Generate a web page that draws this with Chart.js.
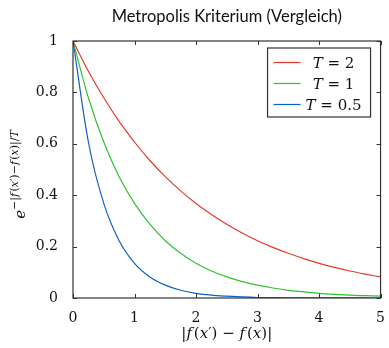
<!DOCTYPE html>
<html>
<head>
<meta charset="utf-8">
<script src="https://cdn.jsdelivr.net/npm/chart.js@4.4.1/dist/chart.umd.min.js"></script>
<style>
  html, body { margin: 0; padding: 0; background: #fff; }
  #wrap { width: 389px; height: 348px; }
</style>
</head>
<body>
<div id="wrap"><canvas id="chart1" width="389" height="348"></canvas></div>
<script>
// x values |f(x') - f(x)|
const xValues = [0, 0.25, 0.5, 0.75, 1, 1.25, 1.5, 1.75, 2, 2.25, 2.5, 2.75, 3, 3.25, 3.5, 3.75, 4, 4.25, 4.5, 4.75, 5];

const valuesT2 = [1, 0.882, 0.779, 0.687, 0.607, 0.535, 0.472, 0.417, 0.368, 0.325, 0.287, 0.253, 0.223, 0.197, 0.174, 0.153, 0.135, 0.119, 0.105, 0.093, 0.082];
const valuesT1 = [1, 0.779, 0.607, 0.472, 0.368, 0.287, 0.223, 0.174, 0.135, 0.105, 0.082, 0.064, 0.050, 0.039, 0.030, 0.024, 0.018, 0.014, 0.011, 0.009, 0.007];
const valuesT05 = [1, 0.607, 0.368, 0.223, 0.135, 0.082, 0.050, 0.030, 0.018, 0.011, 0.007, 0.004, 0.002, 0.0015, 0.001, 0.0006, 0.0003, 0.0002, 0.0001, 0.0001, 0];

const seriesLabels = ['2', '1', '0.5'];
const seriesColors = ['#e6382c', '#2ec42e', '#0d5ec6'];
const xTicks = [0, 1, 2, 3, 4, 5];
const yTicks = [0, 0.2, 0.4, 0.6, 0.8, 1];
const chartTitle = 'Metropolis Kriterium (Vergleich)';

const serif = '"DejaVu Serif", "Liberation Serif", serif';

function toPoints(values) {
    return values.map((v, i) => ({ x: xValues[i], y: v }));
}

// draw mixed italic/upright runs, centered at x
// run = [text, italic, size, dy]
function drawRuns(ctx, runs, x, y, size) {
    let total = 0;
    runs.forEach(r => {
        ctx.font = (r[1] ? 'italic ' : '') + (r[2] || size) + 'px ' + serif;
        total += ctx.measureText(r[0]).width;
    });
    let cx = x - total / 2;
    ctx.textBaseline = 'alphabetic';
    ctx.textAlign = 'left';
    runs.forEach(r => {
        ctx.font = (r[1] ? 'italic ' : '') + (r[2] || size) + 'px ' + serif;
        ctx.fillText(r[0], cx, y + (r[3] || 0));
        cx += ctx.measureText(r[0]).width;
    });
}

const framePlugin = {
    id: 'frame',
    afterDatasetsDraw(chart) {
        const ctx = chart.ctx;
        const a = chart.chartArea;
        const xs = chart.scales.x, ys = chart.scales.y;
        ctx.save();
        ctx.strokeStyle = '#333';
        ctx.lineWidth = 1;
        // inner ticks on all four sides
        ctx.beginPath();
        xTicks.forEach(t => {
            const px = Math.round(xs.getPixelForValue(t)) + 0.5;
            ctx.moveTo(px, a.bottom); ctx.lineTo(px, a.bottom - 4);
            ctx.moveTo(px, a.top); ctx.lineTo(px, a.top + 4);
        });
        yTicks.forEach(t => {
            const py = Math.round(ys.getPixelForValue(t)) + 0.5;
            ctx.moveTo(a.left, py); ctx.lineTo(a.left + 4, py);
            ctx.moveTo(a.right, py); ctx.lineTo(a.right - 4, py);
        });
        ctx.stroke();
        ctx.lineWidth = 1.2;
        ctx.strokeRect(a.left, a.top, a.right - a.left, a.bottom - a.top);

        // title
        ctx.fillStyle = '#111';
        ctx.font = '16.5px Lato, "Open Sans", sans-serif';
        ctx.textAlign = 'center';
        ctx.textBaseline = 'middle';
        ctx.fillText(chartTitle, (a.left + a.right) / 2, 17);

        // legend
        const lx = a.right - 113, ly = a.top + 7, lw = 103, lh = 69;
        ctx.fillStyle = '#fff';
        ctx.fillRect(lx, ly, lw, lh);
        ctx.strokeStyle = '#333';
        ctx.strokeRect(lx, ly, lw, lh);
        ctx.fillStyle = '#111';
        seriesLabels.forEach((lab, i) => {
            const rowY = ly + 14 + i * 21;
            ctx.strokeStyle = seriesColors[i];
            ctx.lineWidth = 1.2;
            ctx.beginPath();
            ctx.moveTo(lx + 6, rowY + 0.5); ctx.lineTo(lx + 33, rowY + 0.5);
            ctx.stroke();
            drawRuns(ctx, [['T', true], [' = ', false, 15], [lab, false]], lx + 66, rowY + 6, 15);
        });

        // x axis title
        drawRuns(ctx, [['|', false], ['f', true], [' ', false, 6], ['(', false], ['x', true], ['\u2032', false],
            [')', false], [' \u2212 ', false], ['f', true], [' ', false, 6], ['(', false], ['x', true], [')|', false]],
            (a.left + a.right) / 2, 338, 15);

        // y axis title, rotated
        ctx.translate(25, (a.top + a.bottom) / 2 + 5);
        ctx.rotate(-Math.PI / 2);
        const s = 11, d = -7;
        drawRuns(ctx, [['e', true, 15], ['\u2212|', false, s, d], ['f', true, s, d], [' ', false, 4, d], ['(', false, s, d],
            ['x', true, s, d], ['\u2032', false, s, d], [')\u2212', false, s, d], ['f', true, s, d], [' ', false, 4, d],
            ['(', false, s, d], ['x', true, s, d], [')|/', false, s, d], ['T', true, s, d]],
            0, 0, 15);
        ctx.restore();
    }
};

const data = {
    datasets: [
        { label: 'T = 2', data: toPoints(valuesT2), borderColor: seriesColors[0] },
        { label: 'T = 1', data: toPoints(valuesT1), borderColor: seriesColors[1] },
        { label: 'T = 0.5', data: toPoints(valuesT05), borderColor: seriesColors[2] }
    ]
};

const config = {
    type: 'line',
    data: data,
    options: {
        responsive: false,
        animation: false,
        layout: { padding: { left: 0, right: 5, top: 41, bottom: 0 } },
        elements: {
            point: { radius: 0 },
            line: { borderWidth: 1.2, cubicInterpolationMode: 'monotone', fill: false }
        },
        scales: {
            x: {
                type: 'linear', min: 0, max: 5,
                grid: { display: false },
                border: { display: false },
                afterBuildTicks: s => { s.ticks = xTicks.map(v => ({ value: v })); },
                afterFit: s => { s.height = 50; },
                ticks: { color: '#111', padding: 4, font: { family: serif, size: 14 }, maxRotation: 0,
                    callback: v => String(v) }
            },
            y: {
                min: 0, max: 1,
                grid: { display: false },
                border: { display: false },
                afterBuildTicks: s => { s.ticks = yTicks.map(v => ({ value: v })); },
                afterFit: s => { s.width = 73; },
                ticks: { color: '#111', padding: 7, font: { family: serif, size: 14 },
                    callback: v => String(v) }
            }
        },
        plugins: {
            legend: { display: false },
            tooltip: { enabled: false },
            title: { display: false }
        }
    },
    plugins: [framePlugin]
};

const chart1 = new Chart(document.getElementById('chart1'), config);
</script>
</body>
</html>
